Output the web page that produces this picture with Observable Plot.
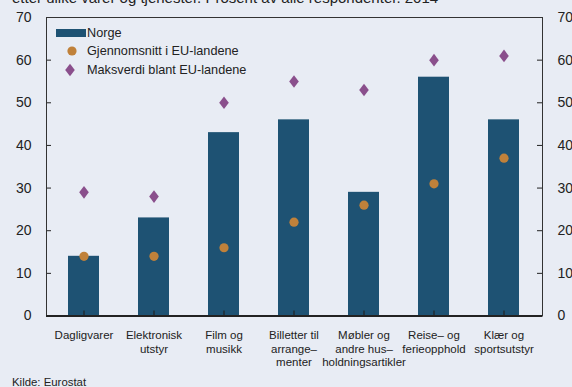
<!DOCTYPE html>
<html><head><meta charset="utf-8">
<script src="https://cdn.jsdelivr.net/npm/d3@7"></script>
<script src="https://cdn.jsdelivr.net/npm/@observablehq/plot@0.6"></script>
<style>
html,body{margin:0;padding:0;background:#e8ecf4;overflow:hidden}
#wrap{position:relative;width:572px;height:387px;overflow:hidden;font-family:"Liberation Sans",Arial,Helvetica,sans-serif;color:#222}
#sub{position:absolute;left:12px;top:-11px;font-size:15px;white-space:nowrap;line-height:18px}
#chart{position:absolute;left:0;top:0}
#cap{position:absolute;left:12px;top:375px;font-size:11.4px;line-height:14px}
.lg{position:absolute;font-size:12.7px;line-height:16px;white-space:nowrap}
</style></head><body>
<div id="wrap">
<div id="sub">etter ulike varer og tjenester. Prosent av alle respondenter. 2014</div>
<div id="chart"></div>
<svg id="legsym" style="position:absolute;left:0;top:0" width="100" height="90"></svg>
<div class="lg" style="left:87px;top:25px">Norge</div>
<div class="lg" style="left:87px;top:43px">Gjennomsnitt i EU-landene</div>
<div class="lg" style="left:87px;top:62px">Maksverdi blant EU-landene</div>
<div id="cap">Kilde: Eurostat</div>
</div>
<script>
const categories = ["Dagligvarer", "Elektronisk\nutstyr", "Film og\nmusikk", "Billetter til\narrange–\nmenter", "Møbler og\nandre hus–\nholdningsartikler", "Reise– og\nferieopphold", "Klær og\nsportsutstyr"];
const norge = [14, 23, 43, 46, 29, 56, 46];
const euAverage = [14, 14, 16, 22, 26, 31, 37];
const euMax = [29, 28, 50, 55, 53, 60, 61];
const yTicks = [0, 10, 20, 30, 40, 50, 60, 70];

const seriesNames = ["Norge", "Gjennomsnitt i EU-landene", "Maksverdi blant EU-landene"];
const colors = {bar: "#1e5273", avg: "#c0813a", max: "#8a4f8c"};

const data = categories.map((c, i) => ({cat: c, norge: norge[i], avg: euAverage[i], max: euMax[i]}));

const tallDiamond = {
  draw(ctx) {
    const w = 4.8, h = 6.3;
    ctx.moveTo(0, -h); ctx.lineTo(w, 0); ctx.lineTo(0, h); ctx.lineTo(-w, 0); ctx.closePath();
  }
};

const W = 572, H = 372, mL = 46, mR = 30, mT = 17, mB = 56.5;
const plotW = W - mL - mR, plotH = H - mT - mB;

const chart = Plot.plot({
  width: W, height: H,
  marginLeft: mL, marginRight: mR, marginTop: mT, marginBottom: mB,
  style: {background: "transparent", fontFamily: "'Liberation Sans', Arial, sans-serif", color: "#222"},
  x: {domain: categories, paddingInner: 0.55, paddingOuter: 0.275, axis: null, label: null},
  y: {domain: [0, 70], axis: null, label: null},
  marks: [
    Plot.barY(data, {x: "cat", y: "norge", fill: colors.bar}),
    Plot.dot(data, {x: "cat", y: "avg", r: 4.6, fill: colors.avg, stroke: null}),
    Plot.dot(data, {x: "cat", y: "max", symbol: tallDiamond, fill: colors.max, stroke: null}),
    Plot.tickY(yTicks, {y: d => d, insetRight: plotW - 5, stroke: "#222"}),
    Plot.tickY(yTicks, {y: d => d, insetLeft: plotW - 5, stroke: "#222"}),
    Plot.tickX(categories, {x: d => d, insetTop: plotH - 5, stroke: "#222", strokeWidth: 1.2}),
    Plot.frame({stroke: "#333", strokeWidth: 1}),
    Plot.ruleY([0], {stroke: "#222", strokeWidth: 2}),
    Plot.axisY({anchor: "left", ticks: yTicks, tickSize: 0, tickPadding: 15, fontSize: 14, label: null, tickFormat: d => String(d)}),
    Plot.axisY({anchor: "right", ticks: yTicks, tickSize: 0, tickPadding: 15, fontSize: 14, label: null, tickFormat: d => String(d)}),
    Plot.axisX({anchor: "bottom", tickSize: 0, tickPadding: 13, fontSize: 11.5, lineHeight: 1.2, label: null, tickFormat: d => d})
  ]
});
document.getElementById("chart").appendChild(chart);

// legend symbols
const ls = d3.select("#legsym");
ls.append("rect").attr("x", 56).attr("y", 29).attr("width", 30).attr("height", 8).attr("fill", colors.bar);
ls.append("circle").attr("cx", 72).attr("cy", 51).attr("r", 4.6).attr("fill", colors.avg);
ls.append("path").attr("d", "M70,63.7L74.8,70L70,76.3L65.2,70Z").attr("fill", colors.max);
</script>
</body></html>
